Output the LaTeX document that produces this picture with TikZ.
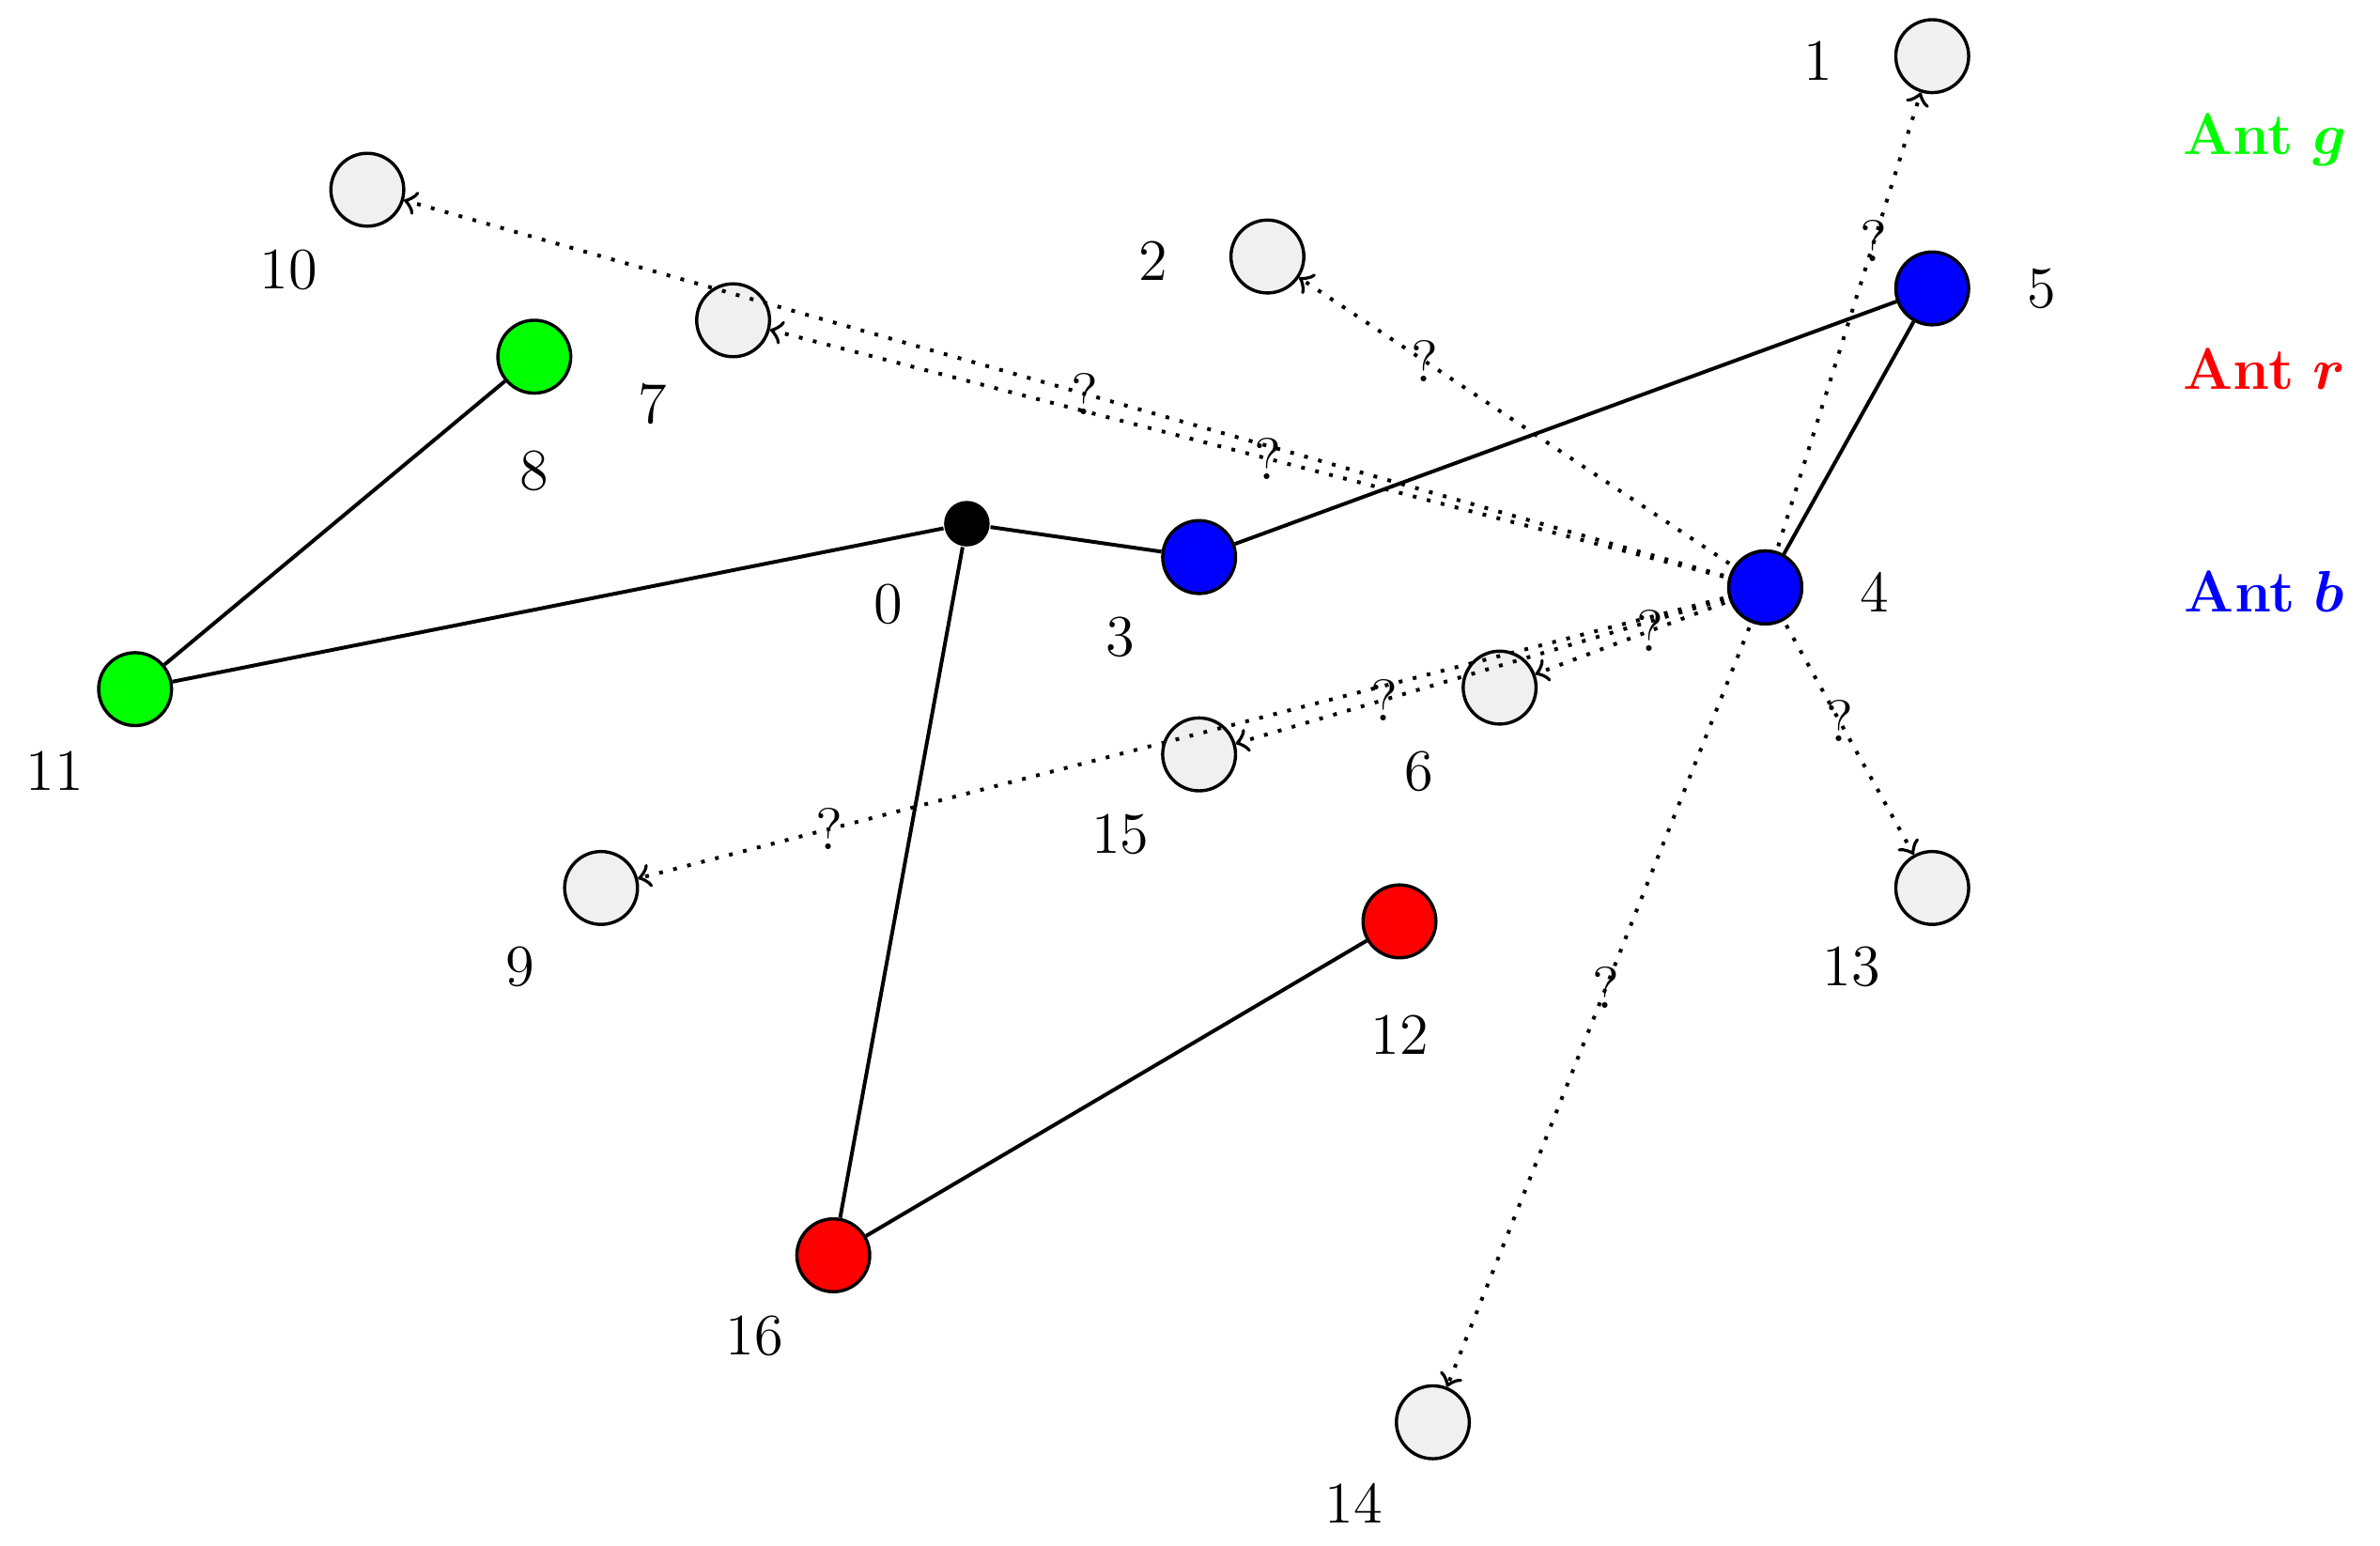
\documentclass[tikz,border=0pt]{standalone}
\usepackage{xcolor}
\usepackage{amsmath,bm}
\definecolor{g}{RGB}{0,255,0}
\definecolor{r}{RGB}{255,0,0}
\definecolor{b}{RGB}{0,0,255}
\definecolor{lg}{RGB}{240,240,240}
\begin{document}
\begin{tikzpicture}[x=0.01cm,y=-0.01cm,font=\fontsize{11}{13}\selectfont,
 vtx/.style={circle,draw,line width=0.6pt,minimum size=0.48cm,inner sep=0pt,fill=lg},
 lbl/.style={inner sep=0pt},
 sol/.style={line width=0.7pt},
 dot/.style={dotted,line width=0.7pt,->},
 qm/.style={inner sep=0pt,font=\fontsize{11}{13}\selectfont}]
\useasboundingbox (0,0) rectangle (1568,1018);
\node[circle,fill=black,minimum size=0.3cm,inner sep=0pt] (n0) at (637,345) {};
\node[vtx] (n1) at (1273,37) {};
\node[vtx] (n2) at (835,169) {};
\node[vtx,fill=b] (n3) at (790,367) {};
\node[vtx,fill=b] (n4) at (1163,387) {};
\node[vtx,fill=b] (n5) at (1273,190) {};
\node[vtx] (n6) at (988,453) {};
\node[vtx] (n7) at (483,211) {};
\node[vtx,fill=g] (n8) at (352,235) {};
\node[vtx] (n9) at (396,585) {};
\node[vtx] (n10) at (242,125) {};
\node[vtx,fill=g] (n11) at (89,454) {};
\node[vtx,fill=r] (n12) at (922,607) {};
\node[vtx] (n13) at (1273,585) {};
\node[vtx] (n14) at (944,937) {};
\node[vtx] (n15) at (790,497) {};
\node[vtx,fill=r] (n16) at (549,827) {};
\foreach \n/\x/\y in {0/585/398,1/1198/40,2/760/172,3/738/420,4/1235/390,5/1345/190,6/935/508,7/430/266,8/352/310,9/343/637,10/190/178,11/36/508,12/922/682,13/1220/637,14/892/990,15/738/550,16/497/880}
  \node[lbl] (l\n) at (\x,\y) {\n};
\node[lbl,text=g] (antg) at (1492,92) {\textbf{Ant} $\bm{g}$};
\node[lbl,text=r] (antr) at (1492,243) {\textbf{Ant} $\bm{r}$};
\node[lbl,text=b] (antb) at (1492,390) {\textbf{Ant} $\bm{b}$};
\draw[sol] (n11)--(n8) (n11)--(n0) (n0)--(n3) (n3)--(n5) (n5)--(n4) (n0)--(n16) (n16)--(n12);
\draw[dot] (n4.center)--(n1) node[qm,pos=0.7] (q1) {?};
\draw[dot] (n4.center)--(n2) node[qm,pos=0.73] (q2) {?};
\draw[dot] (n4.center)--(n10) node[qm,pos=0.5] (q10) {?};
\draw[dot] (n4.center)--(n7) node[qm,pos=0.5] (q7) {?};
\draw[dot] (n4.center)--(n6) node[qm,pos=0.5] (q6) {?};
\draw[dot] (n4.center)--(n15) node[qm,pos=0.72] (q15) {?};
\draw[dot] (n4.center)--(n9) node[qm,pos=0.83] (q9) {?};
\draw[dot] (n4.center)--(n13) node[qm,pos=0.5] (q13) {?};
\draw[dot] (n4.center)--(n14) node[qm,pos=0.5] (q14) {?};
\node[vtx,fill=b] at (n4) {};
\end{tikzpicture}
\end{document}
